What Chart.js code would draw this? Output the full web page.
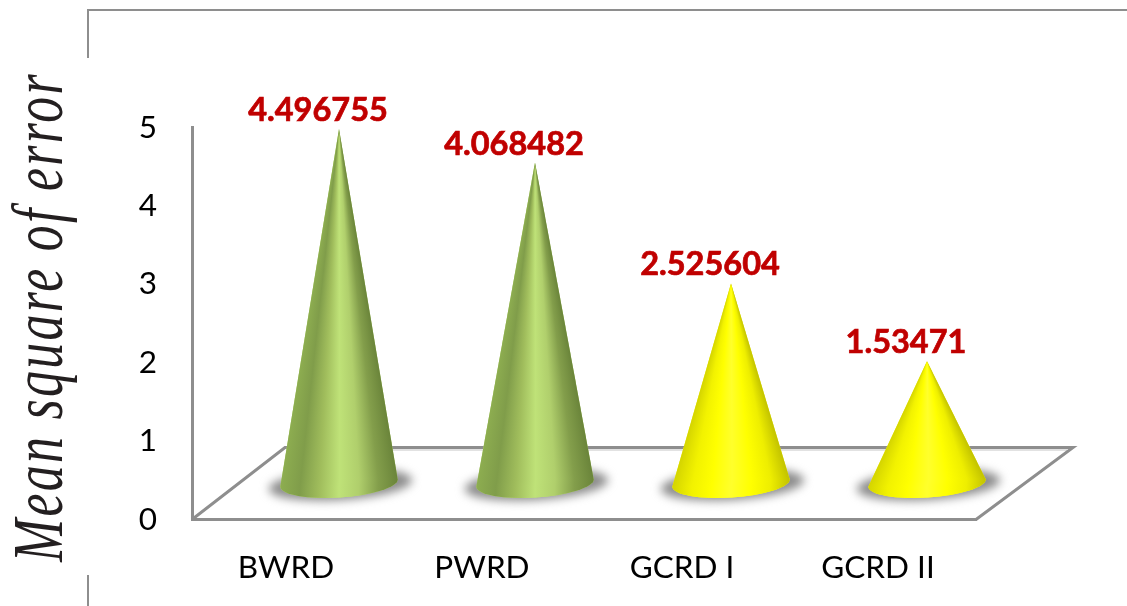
<!DOCTYPE html>
<html>
<head>
<meta charset="utf-8">
<style>html,body{margin:0;padding:0;background:#fff}#w{position:relative;width:1127px;height:606px}canvas{display:block}</style>
<script src="https://cdn.jsdelivr.net/npm/chart.js@4"></script>
</head>
<body>
<div id="w"><canvas id="c" width="1127" height="606"></canvas></div>
<script>
const categories = ["BWRD", "PWRD", "GCRD I", "GCRD II"];
const values = [4.496755, 4.068482, 2.525604, 1.53471];
const yTicks = [0, 1, 2, 3, 4, 5];
const yAxisTitle = "Mean square of error";
const greenStops = ["#8dad50", "#809d4a", "#a0bd5c", "#bfe278", "#b0cf6c", "#839e4b", "#6a843a"];
const yellowStops = ["#d4d400", "#f2f200", "#ffff00", "#ffff2c", "#ffff00", "#eeee00", "#c2c200"];
const coneStops = [greenStops, greenStops, yellowStops, yellowStops];

// 3-D look: depth offset of the back plane relative to the front plane
const DEPTH_X = 49, DEPTH_Y = 36.5, LINE = "#8e8e8e";

const scenePlugin = {
  id: "scene",
  beforeDraw(chart) {
    const { ctx } = chart;
    ctx.save();
    ctx.strokeStyle = LINE; ctx.lineWidth = 2;
    ctx.beginPath();
    ctx.moveTo(88, 58); ctx.lineTo(88, 10); ctx.lineTo(1127, 10);
    ctx.moveTo(88, 575); ctx.lineTo(88, 606);
    ctx.stroke();
    ctx.restore();
  },
  beforeDatasetsDraw(chart) {
    const { ctx, chartArea: a } = chart;
    ctx.save();
    const backY = a.bottom - 72, skew = 95;
    ctx.strokeStyle = "#e2e2e2"; ctx.lineWidth = 2;
    ctx.beginPath(); ctx.moveTo(a.left + skew, backY + 2.5); ctx.lineTo(a.right + skew - 4, backY + 2.5); ctx.stroke();
    ctx.strokeStyle = LINE; ctx.lineWidth = 3;
    ctx.beginPath();
    ctx.moveTo(a.left, a.bottom);
    ctx.lineTo(a.left + skew - 2, backY);
    ctx.lineTo(a.right + skew + 2, backY);
    ctx.lineTo(a.right, a.bottom);
    ctx.stroke();
    ctx.restore();
  },
  afterDatasetsDraw(chart) {
    const { ctx } = chart;
    const meta = chart.getDatasetMeta(0);
    const rot = -3.7 * Math.PI / 180;
    meta.data.forEach((bar, i) => {
      const cx = bar.x + DEPTH_X, top = bar.y - DEPTH_Y, apex = top - 1.5, cy = bar.base - DEPTH_Y;
      const rx = bar.width / 2, ry = 14.5;
      // shadow on the floor
      ctx.save();
      ctx.filter = "blur(5px)";
      ctx.fillStyle = "#8c8c8c";
      ctx.beginPath();
      ctx.ellipse(cx + 1.5, cy + 1.5, rx + 13, ry + 1, rot, 0, Math.PI * 2);
      ctx.fill();
      ctx.restore();
      // cone: clip to silhouette, then shade one pixel row at a time
      const stops = coneStops[i];
      const tipL = cy - rx * Math.sin(rot), tipR = cy + rx * Math.sin(rot);
      const outline = () => {
        ctx.beginPath();
        ctx.moveTo(cx, apex);
        ctx.lineTo(cx + rx * Math.cos(rot), tipR);
        ctx.ellipse(cx, cy, rx, ry, rot, 0, Math.PI);
        ctx.closePath();
      };
      ctx.save();
      outline();
      ctx.fillStyle = stops[3];
      ctx.fill();
      ctx.clip();
      const bottom = Math.ceil(cy + ry + 2);
      for (let y = Math.floor(apex); y < bottom; y++) {
        const wl = Math.min(rx, rx * (y + 0.5 - apex) / (tipL - apex));
        const wr = Math.min(rx, rx * (y + 0.5 - apex) / (tipR - apex));
        const g = ctx.createLinearGradient(cx - wl, 0, cx + wr, 0);
        stops.forEach((c, k) => g.addColorStop(k / (stops.length - 1), c));
        ctx.fillStyle = g;
        ctx.fillRect(cx - rx - 2, y, 2 * rx + 4, 1.2);
      }
      ctx.restore();
      // value label
      ctx.save();
      ctx.font = "bold 32.5px Lato";
      ctx.fillStyle = "#c00000"; ctx.strokeStyle = "#c00000"; ctx.lineWidth = 0.7;
      ctx.textAlign = "center"; ctx.textBaseline = "middle";
      ctx.fillText(String(values[i]), cx - 21, top - 20);
      ctx.strokeText(String(values[i]), cx - 21, top - 20);
      ctx.restore();
    });
    // y axis title (condensed, tracked italic serif)
    ctx.save();
    ctx.translate(62, 562);
    ctx.rotate(-Math.PI / 2);
    ctx.scale(0.72, 1);
    ctx.font = "italic 72px 'Liberation Serif'";
    ctx.letterSpacing = "3.2px";
    ctx.fillStyle = "#231f20";
    ctx.textAlign = "left"; ctx.textBaseline = "alphabetic";
    ctx.fillText(yAxisTitle, 0, 0);
    ctx.restore();
  }
};

new Chart(document.getElementById("c"), {
  type: "bar",
  data: {
    labels: categories,
    datasets: [{ data: values, backgroundColor: "rgba(0,0,0,0)", borderWidth: 0, barPercentage: 0.6, categoryPercentage: 1 }]
  },
  plugins: [scenePlugin],
  options: {
    responsive: false, animation: false,
    events: [],
    layout: { padding: { top: 127.5, right: 151, left: 0, bottom: 0 } },
    plugins: { legend: { display: false }, tooltip: { enabled: false }, title: { display: false } },
    scales: {
      x: {
        afterFit(s) { s.height = 86.5; },
        grid: { display: false, drawTicks: false },
        border: { display: true, color: LINE, width: 3 },
        ticks: {
          color: "#000", font: { family: "Lato", size: 31.5 }, padding: 29, maxRotation: 0,
          callback(v, i) { return categories[i] + (i < 2 ? " " : ""); }
        }
      },
      y: {
        min: 0, max: 5,
        afterFit(s) { s.width = 192; },
        afterBuildTicks(s) { s.ticks = yTicks.map(v => ({ value: v })); },
        grid: { display: false, drawTicks: false },
        border: { display: true, color: LINE, width: 3 },
        ticks: { color: "#000", font: { family: "Lato", size: 31.5 }, padding: 35 }
      }
    }
  }
});
</script>
</body>
</html>
